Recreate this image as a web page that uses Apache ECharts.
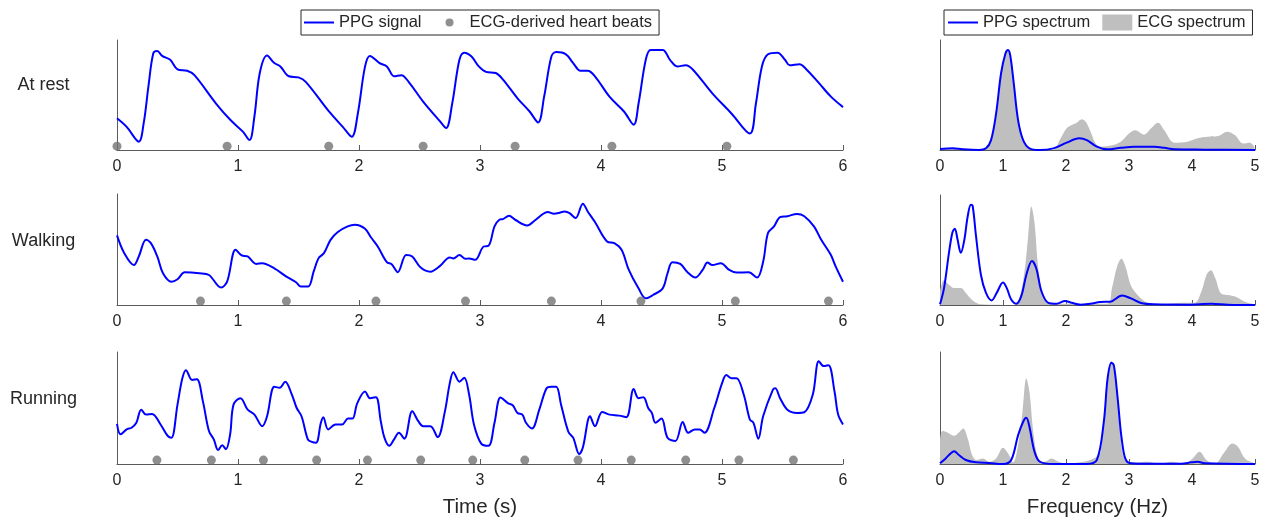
<!DOCTYPE html>
<html>
<head>
<meta charset="utf-8">
<script src="https://cdn.jsdelivr.net/npm/echarts@6/dist/echarts.min.js"></script>
<style>
  html, body { margin: 0; padding: 0; background: #fff; }
  #chart { width: 1264px; height: 519px; }
</style>
</head>
<body>
<div id="chart"></div>
<script>
// row labels
const rowNames = ["At rest", "Walking", "Running"];

// PPG signal, [time (s), normalised amplitude]
const restPpg = [
  [0, 0.288], [0.08, 0.21], [0.18, 0.076], [0.22, 0.24], [0.26, 0.58], [0.30, 0.88], [0.333, 0.90],
  [0.373, 0.855], [0.44, 0.82], [0.50, 0.733], [0.58, 0.72], [0.64, 0.68], [0.82, 0.42], [0.94, 0.27],
  [1.04, 0.167], [1.095, 0.09], [1.135, 0.30], [1.18, 0.70], [1.24, 0.86], [1.30, 0.79], [1.35, 0.76],
  [1.42, 0.67], [1.50, 0.66], [1.56, 0.62], [1.745, 0.36], [1.866, 0.21], [1.94, 0.12], [1.99, 0.33],
  [2.05, 0.76], [2.09, 0.855], [2.17, 0.79], [2.23, 0.76], [2.29, 0.67], [2.35, 0.68], [2.41, 0.62],
  [2.53, 0.44], [2.67, 0.26], [2.72, 0.20], [2.77, 0.42], [2.83, 0.82], [2.87, 0.885], [2.93, 0.85],
  [2.99, 0.76], [3.05, 0.71], [3.13, 0.70], [3.19, 0.64], [3.31, 0.47], [3.41, 0.35], [3.48, 0.25],
  [3.53, 0.485], [3.59, 0.85], [3.63, 0.89], [3.71, 0.87], [3.77, 0.79], [3.83, 0.72], [3.89, 0.72],
  [3.95, 0.67], [4.07, 0.485], [4.19, 0.35], [4.27, 0.23], [4.31, 0.42], [4.37, 0.82], [4.41, 0.91],
  [4.51, 0.91], [4.57, 0.82], [4.63, 0.76], [4.70, 0.77], [4.76, 0.73], [4.92, 0.515], [5.08, 0.33],
  [5.23, 0.15], [5.28, 0.42], [5.33, 0.76], [5.38, 0.87], [5.46, 0.885], [5.52, 0.82], [5.56, 0.77],
  [5.64, 0.78], [5.70, 0.73], [5.80, 0.61], [5.90, 0.485], [6.0, 0.39]
];
const walkPpg = [
  [0, 0.627], [0.06, 0.467], [0.14, 0.36], [0.18, 0.437], [0.24, 0.587], [0.28, 0.557], [0.333, 0.437],
  [0.38, 0.286], [0.45, 0.21], [0.50, 0.232], [0.56, 0.295], [0.68, 0.286], [0.76, 0.27], [0.86, 0.157],
  [0.91, 0.21], [0.98, 0.497], [1.03, 0.446], [1.08, 0.437], [1.15, 0.37], [1.20, 0.376], [1.30, 0.33],
  [1.40, 0.256], [1.48, 0.205], [1.52, 0.166], [1.58, 0.166], [1.625, 0.30], [1.665, 0.42], [1.71, 0.467],
  [1.765, 0.587], [1.825, 0.657], [1.906, 0.708], [1.966, 0.723], [2.05, 0.687], [2.10, 0.608],
  [2.155, 0.527], [2.23, 0.386], [2.27, 0.367], [2.32, 0.295], [2.39, 0.45], [2.44, 0.437], [2.51, 0.337],
  [2.59, 0.30], [2.67, 0.352], [2.75, 0.428], [2.78, 0.42], [2.83, 0.45], [2.88, 0.416], [2.91, 0.42],
  [2.96, 0.407], [3.03, 0.527], [3.07, 0.533], [3.12, 0.708], [3.16, 0.768], [3.19, 0.774], [3.24, 0.804],
  [3.29, 0.768], [3.39, 0.717], [3.45, 0.759], [3.52, 0.82], [3.56, 0.837], [3.61, 0.822], [3.65, 0.828],
  [3.70, 0.843], [3.74, 0.828], [3.79, 0.783], [3.85, 0.913], [3.89, 0.843], [3.95, 0.747], [4.05, 0.572],
  [4.11, 0.557], [4.17, 0.497], [4.23, 0.316], [4.31, 0.15], [4.37, 0.06], [4.43, 0.09], [4.51, 0.15],
  [4.55, 0.286], [4.59, 0.386], [4.655, 0.37], [4.715, 0.295], [4.78, 0.247], [4.84, 0.316], [4.88, 0.383],
  [4.92, 0.36], [4.99, 0.376], [5.06, 0.316], [5.12, 0.292], [5.22, 0.295], [5.29, 0.247], [5.34, 0.39],
  [5.38, 0.648], [5.43, 0.708], [5.48, 0.792], [5.54, 0.80], [5.62, 0.82], [5.68, 0.80], [5.76, 0.708],
  [5.82, 0.587], [5.90, 0.45], [5.94, 0.346], [6.0, 0.21]
];
const runPpg = [
  [0, 0.359], [0.03, 0.265], [0.08, 0.309], [0.12, 0.324], [0.16, 0.368], [0.20, 0.485], [0.24, 0.441],
  [0.29, 0.447], [0.36, 0.353], [0.42, 0.25], [0.45, 0.235], [0.50, 0.53], [0.54, 0.765], [0.57, 0.838],
  [0.62, 0.75], [0.66, 0.756], [0.71, 0.559], [0.76, 0.294], [0.80, 0.22], [0.835, 0.124], [0.87, 0.168],
  [0.90, 0.132], [0.935, 0.265], [0.963, 0.53], [1.02, 0.588], [1.08, 0.485], [1.136, 0.441], [1.20, 0.338],
  [1.24, 0.426], [1.30, 0.69], [1.345, 0.68], [1.39, 0.735], [1.445, 0.62], [1.485, 0.50], [1.525, 0.426],
  [1.577, 0.22], [1.605, 0.20], [1.645, 0.19], [1.685, 0.368], [1.705, 0.418], [1.745, 0.309],
  [1.806, 0.353], [1.86, 0.353], [1.91, 0.406], [1.946, 0.406], [1.986, 0.544], [2.05, 0.647],
  [2.09, 0.588], [2.14, 0.597], [2.18, 0.382], [2.21, 0.235], [2.25, 0.162], [2.29, 0.22], [2.33, 0.279],
  [2.375, 0.226], [2.44, 0.47], [2.49, 0.382], [2.53, 0.338], [2.59, 0.338], [2.65, 0.24], [2.71, 0.47],
  [2.75, 0.72], [2.78, 0.82], [2.83, 0.735], [2.87, 0.77], [2.91, 0.62], [2.95, 0.353], [3.01, 0.182],
  [3.07, 0.162], [3.12, 0.368], [3.17, 0.594], [3.23, 0.544], [3.27, 0.524], [3.31, 0.456], [3.35, 0.441],
  [3.38, 0.368], [3.43, 0.318], [3.49, 0.485], [3.55, 0.676], [3.59, 0.69], [3.63, 0.69], [3.67, 0.53],
  [3.73, 0.288], [3.77, 0.235], [3.82, 0.088], [3.85, 0.147], [3.91, 0.426], [3.95, 0.338], [4.01, 0.465],
  [4.07, 0.441], [4.15, 0.432], [4.21, 0.418], [4.27, 0.67], [4.31, 0.588], [4.35, 0.597], [4.39, 0.50],
  [4.42, 0.456], [4.45, 0.368], [4.50, 0.406], [4.55, 0.235], [4.615, 0.206], [4.675, 0.376],
  [4.72, 0.279], [4.775, 0.309], [4.815, 0.309], [4.855, 0.279], [4.936, 0.50], [5.0, 0.72],
  [5.036, 0.794], [5.08, 0.765], [5.12, 0.765], [5.18, 0.618], [5.23, 0.397], [5.26, 0.368], [5.30, 0.226],
  [5.34, 0.426], [5.42, 0.662], [5.44, 0.676], [5.48, 0.588], [5.54, 0.485], [5.62, 0.456], [5.68, 0.462],
  [5.75, 0.618], [5.80, 0.918], [5.84, 0.874], [5.88, 0.882], [5.93, 0.647], [5.96, 0.441], [6.0, 0.353]
];

// ECG-derived heart beat times (s)
const restBeats = [0, 0.91, 1.75, 2.53, 3.29, 4.09, 5.04];
const walkBeats = [0.69, 1.40, 2.14, 2.88, 3.59, 4.33, 5.11, 5.88];
const runBeats = [0.33, 0.78, 1.21, 1.65, 2.07, 2.51, 2.94, 3.37, 3.81, 4.25, 4.70, 5.14, 5.59];

// spectra, [frequency (Hz), normalised power]
const restPpgSpec = [
  [0, 0.01], [0.2, 0.015], [0.36, 0.006], [0.62, 0], [0.73, 0.015], [0.81, 0.09], [0.89, 0.33],
  [0.97, 0.70], [1.04, 0.88], [1.08, 0.91], [1.115, 0.86], [1.17, 0.61], [1.24, 0.27], [1.32, 0.09],
  [1.42, 0.015], [1.58, 0], [1.80, 0.015], [2.01, 0.067], [2.21, 0.106], [2.33, 0.09], [2.49, 0.03],
  [2.65, 0.006], [2.87, 0.02], [3.08, 0.03], [3.40, 0.03], [3.56, 0.02], [3.72, 0.006], [4.2, 0.003], [5, 0]
];
const restEcgSpec = [
  [0, 0.012], [0.2, 0.015], [0.36, 0.006], [0.62, 0], [0.73, 0.02], [0.81, 0.1], [0.89, 0.35],
  [0.97, 0.71], [1.04, 0.89], [1.08, 0.91], [1.115, 0.87], [1.17, 0.63], [1.24, 0.29], [1.32, 0.1],
  [1.42, 0.02], [1.6, 0], [1.8, 0.003], [1.9, 0.09], [2.01, 0.197], [2.09, 0.227], [2.17, 0.248],
  [2.25, 0.279], [2.31, 0.258], [2.39, 0.167], [2.47, 0.06], [2.55, 0.03], [2.71, 0.04], [2.87, 0.076],
  [3.0, 0.15], [3.1, 0.18], [3.24, 0.14], [3.35, 0.197], [3.46, 0.248], [3.56, 0.18], [3.72, 0.067],
  [3.93, 0.076], [4.09, 0.106], [4.25, 0.12], [4.41, 0.127], [4.56, 0.167], [4.68, 0.136], [4.81, 0.06],
  [4.92, 0.067], [5, 0.015]
];
const walkPpgSpec = [
  [0, 0.006], [0.064, 0.154], [0.144, 0.48], [0.197, 0.66], [0.235, 0.694], [0.277, 0.60], [0.33, 0.475],
  [0.384, 0.585], [0.44, 0.807], [0.49, 0.911], [0.518, 0.902], [0.571, 0.63], [0.65, 0.273], [0.73, 0.11],
  [0.82, 0.042], [0.90, 0.11], [1.0, 0.205], [1.06, 0.154], [1.13, 0.05], [1.21, 0.012], [1.29, 0.08],
  [1.37, 0.273], [1.46, 0.40], [1.53, 0.33], [1.61, 0.125], [1.72, 0.02], [1.85, 0.012], [1.985, 0.036],
  [2.09, 0.02], [2.23, 0.003], [2.385, 0.012], [2.545, 0.027], [2.705, 0.03], [2.89, 0.086], [3.03, 0.06],
  [3.19, 0.018], [3.40, 0.006], [3.93, 0.003], [4.31, 0.012], [4.57, 0.003], [5, 0]
];
const walkEcgSpec = [
  [0, 0.125], [0.064, 0.228], [0.144, 0.184], [0.224, 0.154], [0.33, 0.154], [0.41, 0.11], [0.52, 0.042],
  [0.65, 0.006], [1.16, 0], [1.26, 0.065], [1.34, 0.30], [1.40, 0.63], [1.45, 0.896], [1.50, 0.75],
  [1.56, 0.33], [1.64, 0.095], [1.745, 0.012], [2.65, 0.012], [2.73, 0.154], [2.81, 0.347], [2.88, 0.42],
  [2.945, 0.347], [3.025, 0.184], [3.13, 0.095], [3.29, 0.02], [3.5, 0.006], [3.83, 0.02], [4.04, 0.02],
  [4.15, 0.125], [4.23, 0.273], [4.30, 0.315], [4.37, 0.243], [4.47, 0.10], [4.60, 0.089], [4.71, 0.071],
  [4.84, 0.03], [5, 0.006]
];
const runPpgSpec = [
  [0, 0.006], [0.09, 0.05], [0.17, 0.095], [0.224, 0.113], [0.30, 0.08], [0.41, 0.036], [0.57, 0.015],
  [0.78, 0.009], [1.0, 0], [1.13, 0.036], [1.24, 0.258], [1.32, 0.377], [1.37, 0.412], [1.42, 0.33],
  [1.50, 0.11], [1.585, 0.02], [1.80, 0], [2.33, 0], [2.49, 0.036], [2.60, 0.377], [2.66, 0.763],
  [2.72, 0.905], [2.76, 0.88], [2.82, 0.585], [2.89, 0.20], [2.97, 0.02], [3.13, 0.003], [3.83, 0.003],
  [3.99, 0.015], [4.09, 0.02], [4.2, 0.006], [5, 0]
];
const runEcgSpec = [
  [0, 0.214], [0.037, 0.294], [0.117, 0.282], [0.224, 0.252], [0.30, 0.282], [0.368, 0.318], [0.44, 0.228],
  [0.51, 0.08], [0.58, 0.036], [0.68, 0.05], [0.785, 0.02], [0.89, 0.05], [1.0, 0.145], [1.08, 0.095],
  [1.16, 0.015], [1.24, 0.17], [1.31, 0.466], [1.37, 0.763], [1.42, 0.644], [1.48, 0.288], [1.56, 0.05],
  [1.665, 0.02], [1.77, 0.05], [1.88, 0.02], [2.01, 0.003], [2.225, 0.015], [2.44, 0.05], [2.55, 0.11],
  [2.65, 0.733], [2.72, 0.917], [2.79, 0.792], [2.87, 0.228], [2.945, 0.036], [3.13, 0.015], [3.29, 0.02],
  [3.5, 0.003], [3.67, 0.02], [3.88, 0.003], [4.01, 0.05], [4.12, 0.11], [4.23, 0.036], [4.36, 0.003],
  [4.52, 0.11], [4.64, 0.184], [4.73, 0.154], [4.84, 0.05], [5, 0.006]
];

const ppgRows = [restPpg, walkPpg, runPpg];
const beatRows = [restBeats, walkBeats, runBeats];
const ppgSpecRows = [restPpgSpec, walkPpgSpec, runPpgSpec];
const ecgSpecRows = [restEcgSpec, walkEcgSpec, runEcgSpec];

const FONT = "Liberation Sans";
const BLUE = "#0000ff";
const DOT_GRAY = "#737373";
const AREA_GRAY = "#bfbfbf";
const AXIS_GRAY = "#5a5a5a";
const TEXT = "#262626";
const LINE_ICON = "path://M0,0H30V2H0Z";

const leftGrids = [
  { top: 40, height: 110 },
  { top: 194, height: 111 },
  { top: 352, height: 113 },
];
const rightGrids = [
  { top: 40, height: 110 },
  { top: 195, height: 110 },
  { top: 352, height: 112 },
];
const labelY = [85, 241, 399];

function xAxisFor(gridIndex, max, name) {
  return {
    gridIndex: gridIndex,
    type: "value",
    min: 0,
    max: max,
    interval: 1,
    name: name || "",
    nameLocation: "middle",
    nameGap: 33,
    nameTextStyle: { color: TEXT, fontSize: 20.5, fontFamily: FONT },
    axisLine: { lineStyle: { color: AXIS_GRAY, width: 1 } },
    axisTick: { inside: true, length: 5, lineStyle: { color: AXIS_GRAY } },
    axisLabel: { color: TEXT, fontSize: 16, fontFamily: FONT, margin: 9 },
    splitLine: { show: false },
  };
}

function yAxisFor(gridIndex, visible) {
  return {
    gridIndex: gridIndex,
    type: "value",
    min: 0,
    max: 1,
    show: visible,
    axisLine: { show: true, lineStyle: { color: AXIS_GRAY, width: 1 } },
    axisTick: { show: false },
    axisLabel: { show: false },
    splitLine: { show: false },
  };
}

const grid = [];
const xAxis = [];
const yAxis = [];
const series = [];

ppgRows.forEach((rowData, i) => {
  grid.push({ left: 117, width: 726, top: leftGrids[i].top, height: leftGrids[i].height });
  xAxis.push(xAxisFor(i, 6, i === 2 ? "Time (s)" : ""));
  yAxis.push(yAxisFor(i, true));
  yAxis.push(yAxisFor(i, false));
  series.push({
    name: "PPG signal",
    type: "line",
    xAxisIndex: i,
    yAxisIndex: 2 * i,
    data: rowData,
    smooth: 0.35,
    symbol: "none",
    lineStyle: { color: BLUE, width: 2 },
    itemStyle: { color: BLUE },
    z: 3,
  });
  series.push({
    name: "ECG-derived heart beats",
    type: "scatter",
    xAxisIndex: i,
    yAxisIndex: 2 * i + 1,
    data: beatRows[i].map((t) => [t, 0.035]),
    symbol: "circle",
    symbolSize: 9,
    itemStyle: { color: DOT_GRAY },
    z: 4,
  });
});

ppgSpecRows.forEach((rowData, i) => {
  const g = 3 + i;
  grid.push({ left: 940, width: 315, top: rightGrids[i].top, height: rightGrids[i].height });
  xAxis.push(xAxisFor(g, 5, i === 2 ? "Frequency (Hz)" : ""));
  yAxis.push(yAxisFor(g, true));
  series.push({
    name: "ECG spectrum",
    type: "line",
    xAxisIndex: g,
    yAxisIndex: 6 + i,
    data: ecgSpecRows[i],
    smooth: 0.35,
    symbol: "none",
    lineStyle: { width: 0, color: AREA_GRAY },
    areaStyle: { color: AREA_GRAY, opacity: 1 },
    itemStyle: { color: AREA_GRAY },
    z: 2,
  });
  series.push({
    name: "PPG spectrum",
    type: "line",
    xAxisIndex: g,
    yAxisIndex: 6 + i,
    data: rowData,
    smooth: 0.35,
    symbol: "none",
    lineStyle: { color: BLUE, width: 2 },
    itemStyle: { color: BLUE },
    z: 3,
  });
});

const chart = echarts.init(document.getElementById("chart"), null, { renderer: "canvas" });

chart.setOption({
  animation: false,
  backgroundColor: "#ffffff",
  textStyle: { fontFamily: FONT },
  grid: grid,
  xAxis: xAxis,
  yAxis: yAxis,
  legend: [
    {
      data: [
        { name: "PPG signal", icon: LINE_ICON },
        { name: "ECG-derived heart beats", icon: "circle" },
      ],
      left: 301,
      top: 10,
      itemWidth: 30,
      itemHeight: 8,
      itemGap: 24,
      padding: [4, 7, 4, 3],
      borderColor: TEXT,
      borderWidth: 1,
      textStyle: { color: TEXT, fontSize: 16.5, fontFamily: FONT },
      selectedMode: false,
    },
    {
      data: [
        { name: "PPG spectrum", icon: LINE_ICON },
        { name: "ECG spectrum", icon: "rect" },
      ],
      left: 944,
      top: 10,
      itemWidth: 30,
      itemHeight: 16,
      itemGap: 12,
      padding: [4, 7, 4, 4],
      borderColor: TEXT,
      borderWidth: 1,
      textStyle: { color: TEXT, fontSize: 16.5, fontFamily: FONT },
      selectedMode: false,
    },
  ],
  graphic: rowNames.map((name, i) => ({
    type: "text",
    x: 43.5,
    y: labelY[i],
    style: {
      text: name,
      fill: TEXT,
      font: "18px " + FONT,
      align: "center",
      verticalAlign: "middle",
    },
  })),
  series: series,
});

window.addEventListener("resize", () => chart.resize());
</script>
</body>
</html>
